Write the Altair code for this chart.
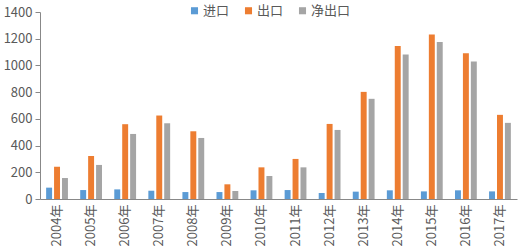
import altair as alt
import pandas as pd

years = ["2004年", "2005年", "2006年", "2007年", "2008年", "2009年", "2010年",
         "2011年", "2012年", "2013年", "2014年", "2015年", "2016年", "2017年"]
imports = [85, 67, 72, 62, 52, 52, 65, 67, 45, 55, 65, 57, 65, 57]
exports = [242, 322, 560, 625, 507, 110, 237, 300, 562, 802, 1145, 1232, 1092, 630]
net_exports = [157, 255, 487, 567, 457, 60, 172, 237, 517, 750, 1082, 1175, 1030, 570]

series = ["进口", "出口", "净出口"]
colors = ["#5B9BD5", "#ED7D31", "#A5A5A5"]

rows = []
for i, y in enumerate(years):
    for s, vals in zip(series, [imports, exports, net_exports]):
        rows.append({"年份": y, "类别": s, "值": vals[i]})
df = pd.DataFrame(rows)

FONT = "Noto Sans CJK SC"
TXT = "#595959"

chart = alt.Chart(df).mark_bar().encode(
    x=alt.X("年份:N", sort=years, title=None,
            scale=alt.Scale(paddingInner=0.36, paddingOuter=0.18),
            axis=alt.Axis(labelAngle=270, ticks=False, domainColor="#888888",
                          labelColor=TXT, labelFont=FONT, labelFontSize=13,
                          labelPadding=5)),
    xOffset=alt.XOffset("类别:N", sort=series,
                        scale=alt.Scale(paddingInner=0.25)),
    y=alt.Y("值:Q", title=None,
            scale=alt.Scale(domain=[0, 1400]),
            axis=alt.Axis(values=list(range(0, 1401, 200)), format="d", grid=False,
                          domainColor="#888888", tickColor="#888888", tickSize=5,
                          labelColor=TXT, labelFont=FONT, labelFontSize=13,
                          labelPadding=3)),
    color=alt.Color("类别:N", sort=series,
                    scale=alt.Scale(domain=series, range=colors),
                    legend=alt.Legend(title=None, orient="none", direction="horizontal",
                                      legendX=148, legendY=-8, symbolType="square",
                                      symbolSize=50, symbolStrokeWidth=0,
                                      labelFont=FONT, labelFontSize=13,
                                      labelColor=TXT, columnPadding=12,
                                      labelOffset=2)),
).properties(
    width=477, height=187,
    autosize=alt.AutoSizeParams(type="none"),
    padding={"left": 40, "top": 12, "right": 2, "bottom": 52},
).configure_view(stroke=None)

chart.save("out.html", embed_options={"renderer": "svg", "actions": False})
